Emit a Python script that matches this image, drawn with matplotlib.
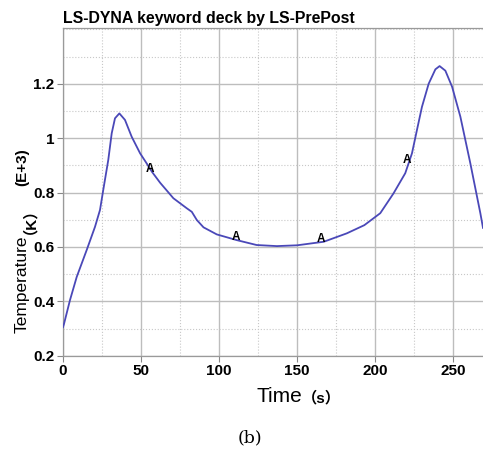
import numpy as np
import matplotlib.pyplot as plt
from matplotlib.ticker import MultipleLocator

# curve (time in s, temperature in 1e3 K)
time_s = [0, 0.6, 4.5, 8.8, 15.2, 20.5, 23.7, 25.8, 29, 31.2, 33.3, 36.1, 39.7, 44,
          49.4, 53.6, 57, 62.2, 70.7, 79.3, 82.5, 85.7, 90, 98.5, 111.3, 124, 137,
          150, 167, 181.8, 193, 203.2, 211.7, 219.2, 223.5, 226.7, 229.9, 234.2,
          238.5, 241.2, 244.9, 249.2, 254.5, 260.9, 267.3, 269]
temp = [0.305, 0.316, 0.405, 0.49, 0.589, 0.674, 0.736, 0.81, 0.92, 1.018, 1.073,
        1.091, 1.067, 1.005, 0.944, 0.907, 0.876, 0.836, 0.779, 0.742, 0.729, 0.699,
        0.672, 0.646, 0.625, 0.607, 0.603, 0.606, 0.619, 0.65, 0.68, 0.724, 0.797,
        0.871, 0.944, 1.03, 1.115, 1.2, 1.253, 1.265, 1.248, 1.189, 1.079, 0.907,
        0.724, 0.67]

marker_t = [57, 111.5, 166.5, 221.5]
xticks = [0, 50, 100, 150, 200, 250]
yticks = [0.2, 0.4, 0.6, 0.8, 1.0, 1.2]
ylabels = ['0.2', '0.4', '0.6', '0.8', '1', '1.2']

plt.rcParams['font.family'] = ['Liberation Sans', 'Noto Sans CJK SC', 'DejaVu Sans']

fig = plt.figure(figsize=(4.83, 4.54), dpi=100)
ax = fig.add_axes([63/483, 1-355.7/454, 1-63/483, (355.7-28)/454])

ax.plot(time_s, temp, color='#4a48b8', lw=1.3, zorder=3)
mv = np.interp(marker_t, time_s, temp)
for t, v in zip(marker_t, mv):
	ax.text(t - 1, v - 0.012, 'A', fontsize=8.5, fontweight='bold', ha='center', va='bottom', zorder=4)

ax.set_xlim(0, 269)
ax.set_ylim(0.2, 1.405)
ax.set_xticks(xticks)
ax.set_xticklabels([str(x) for x in xticks], fontsize=11, fontweight='bold')
ax.set_yticks(yticks)
ax.set_yticklabels(ylabels, fontsize=11, fontweight='bold')
ax.xaxis.set_minor_locator(MultipleLocator(25))
ax.yaxis.set_minor_locator(MultipleLocator(0.1))
ax.grid(which='major', color='#bdbdbd', lw=1.0, ls='-')
ax.grid(which='minor', color='#c8c8c8', lw=0.8, ls=':')
ax.tick_params(which='major', length=4, width=0.8, color='#888888', pad=2)
ax.tick_params(which='minor', length=0)
for s in ['left', 'bottom', 'top']:
	ax.spines[s].set_color('#9a9a9a')
	ax.spines[s].set_linewidth(0.9)
ax.spines['right'].set_visible(False)

fig.text(63/483, 1-19/454, 'LS-DYNA keyword deck by LS-PrePost', fontsize=11.4, fontweight='bold',
         ha='left', va='center')

# y label in pieces (plain + bold)
ax.text(-0.098, 0.069, 'Temperature', rotation=90, fontsize=12.5, ha='center', va='bottom',
        transform=ax.transAxes)
ax.text(-0.098, 0.372, '（K）', rotation=90, fontsize=11, fontweight='bold', ha='center', va='bottom',
        transform=ax.transAxes)
ax.text(-0.098, 0.634, '(E+3)', rotation=90, fontsize=11, fontweight='bold', ha='center',
        va='top', transform=ax.transAxes)

fig.text(302/483, 1-397/454, 'Time', fontsize=15, ha='right', va='center')
fig.text(302/483, 1-398/454, '（s）', fontsize=11, fontweight='bold', ha='left', va='center')

fig.text(250/483, 1-438/454, '(b)', fontsize=12.5, family='DejaVu Serif', ha='center', va='center')

fig.savefig('out.png', dpi=100)
